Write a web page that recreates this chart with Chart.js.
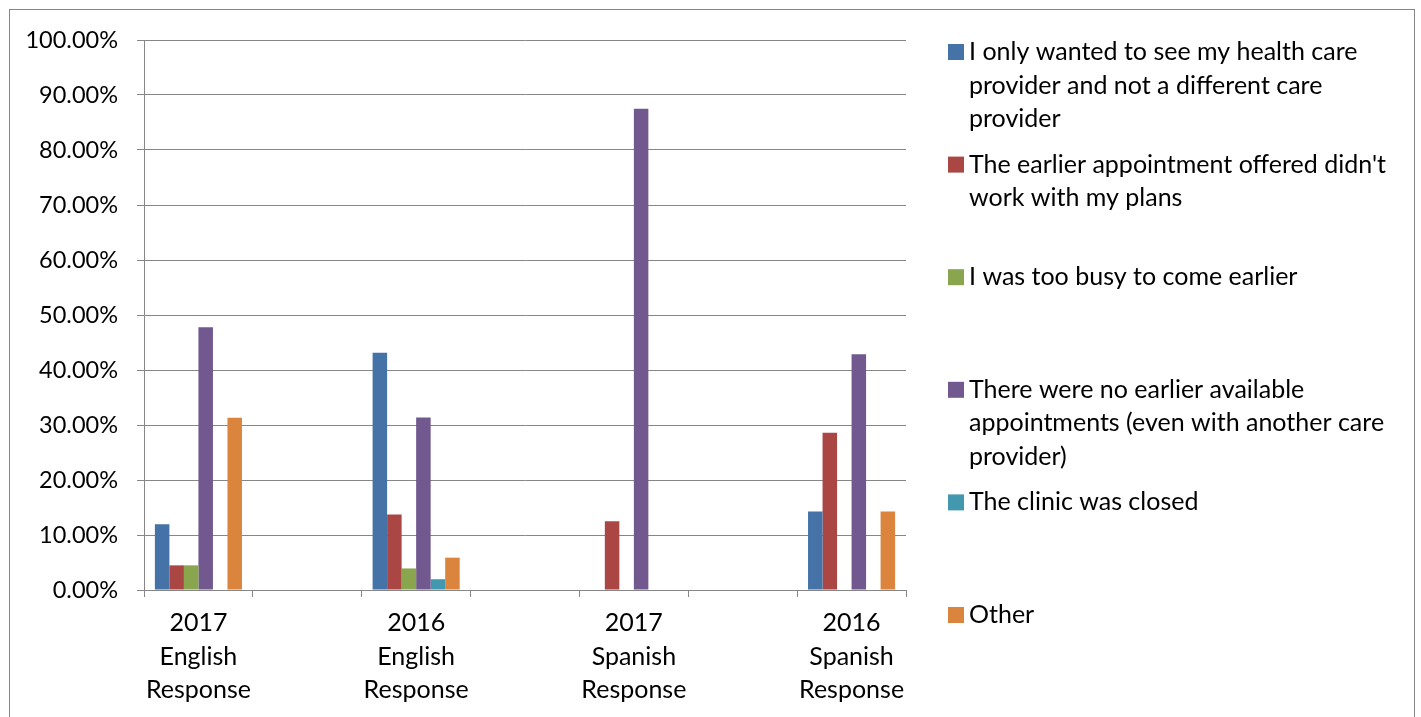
<!DOCTYPE html>
<html>
<head>
<meta charset="utf-8">
<script src="https://cdn.jsdelivr.net/npm/chart.js@4.4.0/dist/chart.umd.min.js"></script>
<style>
html,body{margin:0;padding:0;background:#fff;}
canvas{display:block;}
</style>
</head>
<body>
<canvas id="c" width="1421" height="717"></canvas>
<script>
// ---- data ----
const categories = ['2017 English Response', '', '2016 English Response', '', '2017 Spanish Response', '', '2016 Spanish Response'];
const seriesNames = [
  ['I only wanted to see my health care', 'provider and not a different care', 'provider'],
  ["The earlier appointment offered didn't", 'work with my plans'],
  ['I was too busy to come earlier'],
  ['There were no earlier available', 'appointments (even with another care', 'provider)'],
  ['The clinic was closed'],
  ['Other']
];
const onlyMyProvider = [11.94, null, 43.14, null, 0, null, 14.29];
const apptDidntWork  = [4.48, null, 13.73, null, 12.5, null, 28.57];
const tooBusy        = [4.48, null, 3.92, null, 0, null, 0];
const noEarlierAppts = [47.76, null, 31.37, null, 87.5, null, 42.86];
const clinicClosed   = [0, null, 1.96, null, 0, null, 0];
const otherReason    = [31.34, null, 5.88, null, 0, null, 14.29];
const yTicks = [0, 10, 20, 30, 40, 50, 60, 70, 80, 90, 100];

// ---- styles ----
const colors = ['#4572A7', '#AA4643', '#89A54E', '#71588F', '#4198AF', '#DB843D'];
const seriesValues = [onlyMyProvider, apptDidntWork, tooBusy, noEarlierAppts, clinicClosed, otherReason];
const FONT = 'Lato';
const FS = 25;
const FS_Y = 23.5;
const GRID = '#868686';

const sideLegend = {
  id: 'sideLegend',
  afterDraw(chart) {
    const ctx = chart.ctx;
    const area = chart.chartArea;
    ctx.save();
    ctx.font = FS + 'px ' + FONT;
    ctx.textBaseline = 'middle';
    ctx.textAlign = 'left';
    const x0 = area.right + 42, top0 = 44, step = 112.6, box = 16, lh = 33.5;
    chart.data.datasets.forEach((ds, i) => {
      const by = top0 + i * step;
      ctx.fillStyle = ds.backgroundColor;
      ctx.fillRect(x0, by, box, box);
      ctx.fillStyle = '#000';
      seriesNames[i].forEach((line, j) => ctx.fillText(line, x0 + 21, by + box / 2 + j * lh));
    });
    ctx.strokeStyle = GRID;
    ctx.lineWidth = 1;
    ctx.strokeRect(9.5, 9.5, 1405, 800);
    ctx.restore();
  }
};

new Chart(document.getElementById('c'), {
  type: 'bar',
  data: {
    labels: categories,
    datasets: seriesValues.map((vals, i) => ({
      label: seriesNames[i].join(' '),
      data: vals,
      backgroundColor: colors[i],
      borderWidth: 0,
      categoryPercentage: 0.8,
      barPercentage: 1.0
    }))
  },
  options: {
    responsive: false,
    animation: false,
    devicePixelRatio: 1,
    layout: { padding: { top: 40, right: 515, bottom: 0, left: 0 } },
    plugins: { legend: { display: false }, tooltip: { enabled: false } },
    scales: {
      x: {
        afterFit: (s) => { s.height = 127; },
        grid: { drawOnChartArea: false, drawTicks: true, tickLength: 7, color: GRID, tickColor: GRID, offset: true },
        border: { color: GRID, width: 1 },
        ticks: {
          autoSkip: false, maxRotation: 0, padding: 9.5, color: '#000',
          font: { family: FONT, size: FS, lineHeight: '33.5px' },
          callback: (v, i) => categories[i] ? categories[i].split(' ') : ''
        }
      },
      y: {
        min: 0, max: 100,
        afterFit: (s) => { s.width = 144; },
        afterBuildTicks: (s) => { s.ticks = yTicks.map(v => ({ value: v })); },
        grid: { color: GRID, tickColor: GRID, tickLength: 7, lineWidth: 1 },
        border: { color: GRID, width: 1 },
        ticks: {
          padding: 19, color: '#000',
          font: { family: FONT, size: FS_Y },
          callback: (v) => v.toFixed(2) + '%'
        }
      }
    }
  },
  plugins: [sideLegend]
});
</script>
</body>
</html>
